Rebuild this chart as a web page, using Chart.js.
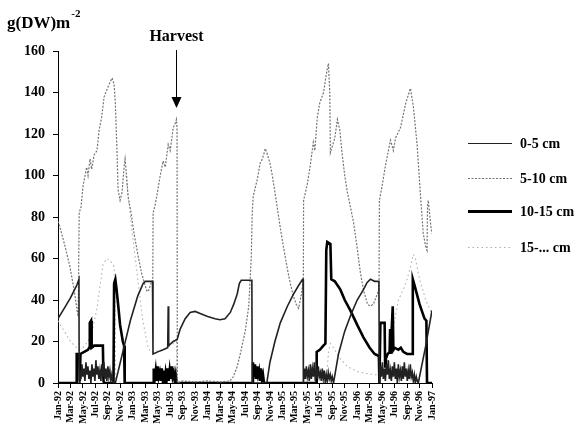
<!DOCTYPE html>
<html>
<head>
<meta charset="utf-8">
<script src="https://cdn.jsdelivr.net/npm/chart.js"></script>
<style>
  body { margin: 0; background: #fff; }
</style>
</head>
<body>
<canvas id="biomass_chart" width="580" height="424"></canvas>
<script>
// bimonthly dates along the x axis (one tick per step of 1)
const xLabels = [
    "Jan-92", "Mar-92", "May-92", "Jul-92", "Sep-92", "Nov-92",
    "Jan-93", "Mar-93", "May-93", "Jul-93", "Sep-93", "Nov-93",
    "Jan-94", "Mar-94", "May-94", "Jul-94", "Sep-94", "Nov-94",
    "Jan-95", "Mar-95", "May-95", "Jul-95", "Sep-95", "Nov-95",
    "Jan-96", "Mar-96", "May-96", "Jul-96", "Sep-96", "Nov-96",
    "Jan-97"
];
const yTicks = [0, 20, 40, 60, 80, 100, 120, 140, 160];

const seriesNames = ["0-5 cm", "5-10 cm", "10-15 cm", "15-... cm"];

// [x, g(DW)m-2]
const depth0to5 = [
    [0, 31], [0.5, 36], [1.0, 41], [1.5, 47], [1.68, 50], [1.70, 0],
    [1.76, 6], [1.84, 2], [1.92, 9], [2.0, 3], [2.08, 7], [2.16, 1], [2.24, 10], [2.32, 4],
    [2.4, 8], [2.48, 2], [2.56, 6], [2.64, 0], [2.72, 9], [2.8, 3], [2.88, 7], [2.96, 1],
    [3.04, 11], [3.12, 4], [3.2, 8], [3.28, 2], [3.36, 6], [3.44, 1], [3.52, 9], [3.6, 3],
    [3.68, 10], [3.76, 2], [3.84, 7], [3.92, 1], [4.0, 8], [4.08, 3], [4.16, 6], [4.24, 1],
    [4.32, 4], [4.42, 0], [4.6, 0],
    [5.2, 15], [5.8, 30], [6.4, 42], [6.83, 48], [7.0, 49], [7.58, 49], [7.62, 14],
    [8.0, 15], [8.43, 16], [8.8, 17], [8.84, 37], [8.88, 18], [9.24, 20], [9.56, 21],
    [9.8, 26], [10.2, 31], [10.6, 34], [11.0, 34.5], [11.4, 33.5], [12.0, 32], [12.6, 31],
    [13.0, 30.5], [13.4, 31], [13.82, 34], [14.1, 38], [14.38, 43], [14.55, 48], [14.7, 49.5],
    [15.55, 49.5], [15.58, 0], [16.75, 0],
    [17.0, 10], [17.4, 20], [17.83, 29], [18.4, 37], [18.9, 43], [19.3, 47], [19.62, 50],
    [19.66, 50], [19.68, 0],
    [19.76, 7], [19.84, 2], [19.92, 8], [20.0, 3], [20.08, 6], [20.16, 1], [20.24, 9], [20.32, 2],
    [20.4, 7], [20.48, 3], [20.56, 10], [20.64, 1], [20.72, 6], [20.8, 2], [20.88, 8], [20.96, 3],
    [21.04, 5], [21.12, 1], [21.2, 7], [21.28, 2], [21.36, 6], [21.44, 0], [21.52, 4], [21.6, 1],
    [21.68, 5], [21.76, 2], [21.84, 4], [21.92, 1], [22.0, 3], [22.1, 0],
    [22.5, 14], [23.0, 25], [23.5, 33], [24.0, 40], [24.5, 45], [24.8, 48.5], [25.06, 50],
    [25.4, 49], [25.74, 49], [25.78, 0],
    [25.86, 8], [25.94, 3], [26.02, 10], [26.1, 2], [26.18, 7], [26.26, 1], [26.34, 9], [26.42, 4],
    [26.5, 11], [26.58, 2], [26.66, 6], [26.74, 1], [26.82, 8], [26.9, 3], [26.98, 10], [27.06, 2],
    [27.14, 7], [27.22, 0], [27.3, 9], [27.38, 3], [27.46, 6], [27.54, 1], [27.62, 8], [27.7, 2],
    [27.78, 10], [27.86, 3], [27.94, 7], [28.02, 1], [28.1, 6], [28.18, 2], [28.26, 9], [28.34, 3],
    [28.42, 5], [28.5, 1], [28.58, 4], [28.66, 0], [28.74, 3], [28.82, 1], [28.9, 0],
    [29.5, 18], [30, 35]
];

const depth5to10 = [
    [0, 78], [0.16, 75], [0.56, 66], [0.96, 56], [1.29, 45], [1.53, 35], [1.62, 32], [1.70, 82],
    [1.85, 85], [2.01, 95], [2.17, 100], [2.3, 104], [2.41, 100], [2.57, 108], [2.7, 103],
    [2.9, 110], [3.13, 112], [3.3, 122], [3.5, 128], [3.7, 138], [3.9, 141], [4.1, 144],
    [4.34, 147], [4.5, 144], [4.6, 135], [4.74, 110], [4.82, 93], [4.98, 88], [5.14, 92],
    [5.3, 104], [5.38, 108], [5.5, 100], [5.62, 90], [5.86, 82], [6.1, 72], [6.4, 62],
    [6.7, 53], [6.99, 47], [7.15, 44], [7.3, 45], [7.5, 49], [7.6, 49], [7.63, 82],
    [7.8, 86], [7.95, 91], [8.2, 100], [8.43, 107], [8.6, 104], [8.84, 115], [9.0, 112],
    [9.24, 123], [9.4, 125], [9.5, 127], [9.55, 122], [9.57, 0],
    [10, 1], [11, 0.5], [12, 1], [13, 0.5], [13.8, 1], [14.06, 3], [14.38, 8], [14.62, 14],
    [15.02, 25], [15.3, 37], [15.5, 60], [15.58, 82], [15.66, 90], [15.98, 98], [16.22, 106],
    [16.4, 108], [16.63, 113], [16.8, 110], [17.0, 106], [17.19, 100], [17.5, 88], [17.8, 76],
    [18.07, 66], [18.4, 55], [18.63, 48], [18.88, 42], [19.1, 38], [19.3, 36], [19.5, 42],
    [19.64, 48], [19.68, 50], [19.70, 88],
    [20.0, 96], [20.24, 105], [20.48, 116], [20.6, 112], [20.8, 128], [21.0, 135], [21.3, 140],
    [21.5, 148], [21.69, 154], [21.8, 140], [21.85, 111], [22.0, 114], [22.2, 118], [22.41, 127],
    [22.6, 122], [22.8, 110], [23.0, 100], [23.21, 92], [23.45, 85], [23.69, 78], [24.0, 65],
    [24.26, 53], [24.5, 45], [24.82, 38], [25.06, 37], [25.3, 38], [25.62, 43], [25.75, 45],
    [25.78, 88], [26.0, 95], [26.27, 105], [26.67, 117], [26.9, 112], [27.07, 118], [27.47, 123],
    [27.9, 135], [28.27, 142], [28.51, 133], [28.8, 115], [29.08, 90], [29.3, 72], [29.48, 66],
    [29.6, 64], [29.64, 85], [29.7, 88], [29.9, 76], [30, 72]
];

const depth10to15 = [
    [0, 0], [1.45, 0], [1.5, 14], [1.7, 14], [1.75, 1], [1.8, 14], [2.1, 15], [2.4, 16],
    [2.5, 17], [2.55, 29], [2.65, 30], [2.7, 17], [2.9, 18], [3.3, 18], [3.6, 18], [3.65, 1],
    [3.7, 0], [4.45, 0], [4.5, 48], [4.6, 50], [4.7, 45], [4.82, 38], [4.98, 28], [5.2, 20],
    [5.3, 18], [5.35, 0], [7.63, 0],
    [7.68, 7], [7.76, 2], [7.84, 6], [7.92, 1], [8.0, 8], [8.08, 3], [8.16, 5], [8.24, 1],
    [8.32, 7], [8.4, 2], [8.48, 6], [8.56, 0], [8.64, 5], [8.72, 2], [8.8, 7], [8.88, 1],
    [8.96, 6], [9.04, 2], [9.12, 8], [9.2, 3], [9.28, 5], [9.36, 1], [9.44, 4], [9.52, 0],
    [15.58, 0], [15.64, 10], [15.72, 3], [15.8, 9], [15.88, 2], [15.96, 8], [16.04, 4],
    [16.12, 6], [16.2, 1], [16.28, 7], [16.36, 2], [16.44, 4], [16.52, 0],
    [20.7, 0], [20.75, 15], [21.0, 16], [21.29, 18], [21.45, 19], [21.52, 64], [21.6, 68],
    [21.85, 67], [21.92, 50], [22.2, 49], [22.65, 45], [23.0, 40], [23.45, 35], [24.0, 28],
    [24.5, 22], [25.0, 17], [25.4, 14], [25.74, 13], [25.78, 0], [25.82, 0], [25.86, 29],
    [26.2, 29], [26.24, 8], [26.3, 12], [26.45, 14], [26.6, 15], [26.64, 26], [26.68, 14],
    [26.85, 37], [26.9, 16], [27.0, 17], [27.3, 16], [27.5, 17], [27.7, 15], [28.0, 14],
    [28.42, 14], [28.46, 50], [28.6, 47], [29.0, 38], [29.4, 31], [29.55, 30], [29.6, 0], [30, 0]
];

const depth15plus = [
    [0, 30], [0.5, 25], [1.0, 20], [1.5, 17], [1.69, 16], [2.0, 17], [2.4, 20], [2.8, 27],
    [3.1, 35], [3.4, 48], [3.61, 57], [3.9, 60], [4.2, 59], [4.5, 56], [4.58, 40], [4.62, 0],
    [5.3, 0], [5.35, null], [5.45, 100], [5.7, 86], [6.0, 70], [6.4, 50], [6.8, 30], [7.2, 18],
    [7.4, 15], [7.63, 15], [8.4, 16], [9.0, 18], [9.5, 20], [9.56, 0], [21.5, 0],
    [21.7, 15], [21.85, 19], [22.1, 17], [22.6, 12], [23.2, 8], [24.0, 5.5], [24.8, 4.5],
    [25.5, 4], [25.78, 4], [26.2, 8], [26.67, 17], [27.0, 30], [27.3, 40], [27.7, 45],
    [28.0, 50], [28.27, 56], [28.5, 62], [28.67, 60], [29.0, 50], [29.5, 40], [30, 33]
];

// x position of the harvest arrow
const harvestX = 9.5;

const serif = "'Liberation Serif', 'DejaVu Serif', serif";

const lineStyles = [
    { borderColor: '#222222', borderWidth: 1.6, borderDash: [] },
    { borderColor: '#747474', borderWidth: 1.2, borderDash: [2, 1.5] },
    { borderColor: '#000000', borderWidth: 2.6, borderDash: [] },
    { borderColor: '#b0b0b0', borderWidth: 1.1, borderDash: [1.5, 3] }
];

const toPoints = (rows) => rows.map((r) => ({ x: r[0], y: r[1] }));
const allSeries = [depth0to5, depth5to10, depth10to15, depth15plus];

// axis title, harvest marker and the legend on the right
const decorations = {
    id: 'decorations',
    afterDraw(chart) {
        const c = chart.ctx;
        const xs = chart.scales.x;
        c.save();
        c.fillStyle = '#000';
        c.textBaseline = 'alphabetic';
        c.textAlign = 'left';
        c.font = "bold 17px " + serif;
        c.fillText("g(DW)m", 7, 28);
        const w = c.measureText("g(DW)m").width;
        c.font = "bold 11px " + serif;
        c.fillText("-2", 7 + w + 1, 17);

        const hx = Math.round(xs.getPixelForValue(harvestX)) + 0.5;
        c.font = "bold 16px " + serif;
        c.textAlign = 'center';
        c.fillText("Harvest", hx, 41);
        c.strokeStyle = '#000';
        c.lineWidth = 1;
        c.beginPath();
        c.moveTo(hx, 50);
        c.lineTo(hx, 100);
        c.stroke();
        c.beginPath();
        c.moveTo(hx - 5, 97);
        c.lineTo(hx + 5, 97);
        c.lineTo(hx, 108);
        c.closePath();
        c.fill();

        const rowsY = [143, 178, 211, 247];
        c.font = "bold 14px " + serif;
        c.textAlign = 'left';
        c.textBaseline = 'middle';
        seriesNames.forEach((name, i) => {
            const s = lineStyles[i];
            c.strokeStyle = s.borderColor;
            c.lineWidth = i === 0 ? 1 : s.borderWidth + (i === 2 ? 0.6 : 0);
            c.setLineDash(s.borderDash);
            c.beginPath();
            c.moveTo(468, rowsY[i] + 0.5);
            c.lineTo(512, rowsY[i] + 0.5);
            c.stroke();
            c.setLineDash([]);
            c.fillStyle = '#000';
            c.fillText(name, 520, rowsY[i] + 1);
        });
        c.restore();
    }
};

const ctx = document.getElementById('biomass_chart').getContext('2d');

const biomassChart = new Chart(ctx, {
    type: 'line',
    data: {
        datasets: allSeries.map((rows, i) => Object.assign({
            label: seriesNames[i],
            data: toPoints(rows),
            pointRadius: 0,
            tension: 0,
            fill: false,
            spanGaps: false
        }, lineStyles[i]))
    },
    options: {
        responsive: false,
        animation: false,
        layout: { padding: { left: 0, top: 51, right: 148, bottom: 0 } },
        plugins: {
            legend: { display: false },
            tooltip: { enabled: false }
        },
        scales: {
            x: {
                type: 'linear',
                min: 0,
                max: xLabels.length - 1,
                afterFit: (scale) => { scale.height = 41; },
                afterBuildTicks: (scale) => {
                    scale.ticks = xLabels.map((_, i) => ({ value: i }));
                },
                ticks: {
                    autoSkip: false,
                    minRotation: 90,
                    maxRotation: 90,
                    padding: 3,
                    color: '#000',
                    font: { family: serif, size: 10, weight: 'bold' },
                    callback: (v) => xLabels[v]
                },
                grid: { drawOnChartArea: false, tickLength: 5, color: '#000' },
                border: { color: '#000', width: 1 }
            },
            y: {
                min: yTicks[0],
                max: yTicks[yTicks.length - 1],
                afterFit: (scale) => { scale.width = 58; },
                afterBuildTicks: (scale) => {
                    scale.ticks = yTicks.map((v) => ({ value: v }));
                },
                ticks: {
                    padding: 8,
                    color: '#000',
                    font: { family: serif, size: 14, weight: 'bold' }
                },
                grid: { drawOnChartArea: false, tickLength: 5, color: '#000' },
                border: { color: '#000', width: 1 }
            }
        }
    },
    plugins: [decorations]
});
</script>
</body>
</html>
